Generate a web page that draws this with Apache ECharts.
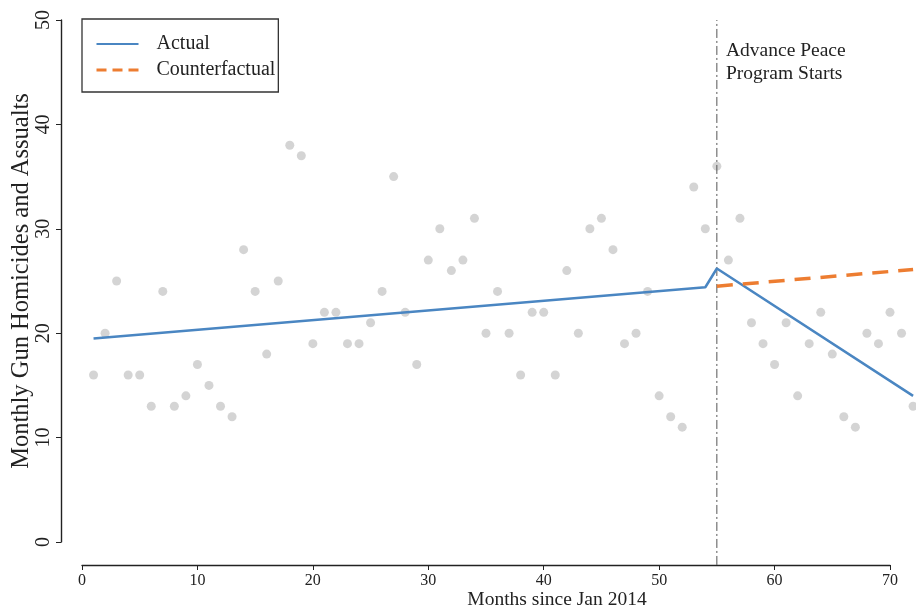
<!DOCTYPE html>
<html>
<head>
<meta charset="utf-8">
<script src="https://cdn.jsdelivr.net/npm/echarts@6/dist/echarts.min.js"></script>
<style>html,body{margin:0;padding:0;background:#fff;}#chart{width:916px;height:610px;}</style>
</head>
<body>
<div id="chart"></div>
<script>
// Monthly observations (month index since Jan 2014)
const months = [1,2,3,4,5,6,7,8,9,10,11,12,13,14,15,16,17,18,19,20,21,22,23,24,25,26,27,28,29,30,31,32,33,34,35,36,37,38,39,40,41,42,43,44,45,46,47,48,49,50,51,52,53,54,55,56,57,58,59,60,61,62,63,64,65,66,67,68,69,70,71,72];
const incidents = [16,20,25,16,16,13,24,13,14,17,15,13,12,28,24,18,25,38,37,19,22,22,19,19,21,24,35,22,17,27,30,26,27,31,20,24,20,16,22,22,16,26,20,30,31,28,19,20,24,14,12,11,34,30,36,27,31,21,19,17,21,14,19,22,18,12,11,20,19,22,20,13];
// Fitted lines
const actualX = [1, 54, 55, 72];
const actualY = [19.5, 24.4, 26.2, 14.0];
const counterX = [55, 72];
const counterY = [24.5, 26.1];
// Program start marker
const programStart = 55;
const markerY = [-2.2, 50];
// Axis ticks
const xTicks = [0, 10, 20, 30, 40, 50, 60, 70];
const yTicks = [0, 10, 20, 30, 40, 50];
const xDataMax = 72.2;

const serif = '"Liberation Serif", "DejaVu Serif", serif';
const ink = '#222';
const axisWidthPx = 808;
const chart = echarts.init(document.getElementById('chart'));
chart.setOption({
  backgroundColor: '#ffffff',
  animation: false,
  title: {
    text: 'Advance Peace\nProgram Starts',
    left: 726, top: 39, padding: 0,
    textStyle: {fontFamily: serif, fontSize: 19.5, fontWeight: 'normal', color: ink, lineHeight: 23}
  },
  legend: {
    data: [
      {name: 'Actual'},
      {name: 'Counterfactual', lineStyle: {type: [10, 6], width: 3}}
    ],
    orient: 'vertical',
    left: 82, top: 19,
    padding: [15, 3, 12, 13],
    borderColor: '#333', borderWidth: 1.3,
    itemWidth: 42, itemHeight: 14, itemGap: 6,
    itemStyle: {opacity: 0},
    textStyle: {fontFamily: serif, fontSize: 20, lineHeight: 20, color: ink, padding: [0, 0, 0, 13]}
  },
  grid: [
    {left: 82, top: 20, width: axisWidthPx * xDataMax / 70, height: 522, outerBoundsMode: 'none', containLabel: false},
    {left: 82, top: 20, width: axisWidthPx, height: 522, outerBoundsMode: 'none', containLabel: false}
  ],
  xAxis: [
    {
      gridIndex: 0, type: 'value', min: 0, max: xDataMax, show: false
    },
    {
      gridIndex: 1, type: 'value', min: xTicks[0], max: xTicks[xTicks.length - 1], interval: 10,
      offset: 23,
      axisLine: {onZero: false, lineStyle: {color: ink, width: 1.4}},
      axisTick: {show: true, length: 5, lineStyle: {color: ink}},
      axisLabel: {fontFamily: serif, fontSize: 16, color: ink, margin: 8},
      splitLine: {show: false},
      name: 'Months since Jan 2014', nameLocation: 'middle', nameGap: 25, nameMoveOverlap: false,
      nameTextStyle: {fontFamily: serif, fontSize: 19.5, color: ink, padding: [0, 0, 0, 142]}
    }
  ],
  yAxis: [
    {
      gridIndex: 0, type: 'value', min: yTicks[0], max: yTicks[yTicks.length - 1], interval: 10,
      offset: 21,
      axisLine: {show: true, onZero: false, lineStyle: {color: ink, width: 1.4}},
      axisTick: {show: true, length: 5, lineStyle: {color: ink}},
      axisLabel: {fontFamily: serif, fontSize: 20, color: ink, rotate: 90, margin: 7},
      splitLine: {show: false},
      name: 'Monthly Gun Homicides and Assualts', nameLocation: 'middle', nameGap: 27, nameMoveOverlap: false,
      nameTextStyle: {fontFamily: serif, fontSize: 24.5, color: ink}
    },
    {
      gridIndex: 1, type: 'value', min: 0, max: 50, show: false
    }
  ],
  series: [
    {
      name: 'points', type: 'scatter', clip: false,
      xAxisIndex: 0, yAxisIndex: 0,
      symbolSize: 9,
      itemStyle: {color: '#c9c9c9'},
      data: months.map((m, i) => [m, incidents[i]]),
      z: 1
    },
    {
      name: 'marker', type: 'line', clip: false, symbol: 'none', silent: true,
      xAxisIndex: 0, yAxisIndex: 0,
      lineStyle: {color: '#555', width: 1, type: [9, 3, 2, 3]},
      data: markerY.map(v => [programStart, v]),
      z: 2
    },
    {
      name: 'Actual', type: 'line', clip: false, symbol: 'none',
      xAxisIndex: 0, yAxisIndex: 0,
      lineStyle: {color: '#4a86c2', width: 2.5},
      itemStyle: {color: '#4a86c2'},
      data: actualX.map((x, i) => [x, actualY[i]]),
      z: 3
    },
    {
      name: 'Counterfactual', type: 'line', clip: false, symbol: 'none',
      xAxisIndex: 0, yAxisIndex: 0,
      lineStyle: {color: '#ed7d31', width: 3.5, type: [16, 10]},
      itemStyle: {color: '#ed7d31'},
      data: counterX.map((x, i) => [x, counterY[i]]),
      z: 3
    }
  ]
});
</script>
</body>
</html>
